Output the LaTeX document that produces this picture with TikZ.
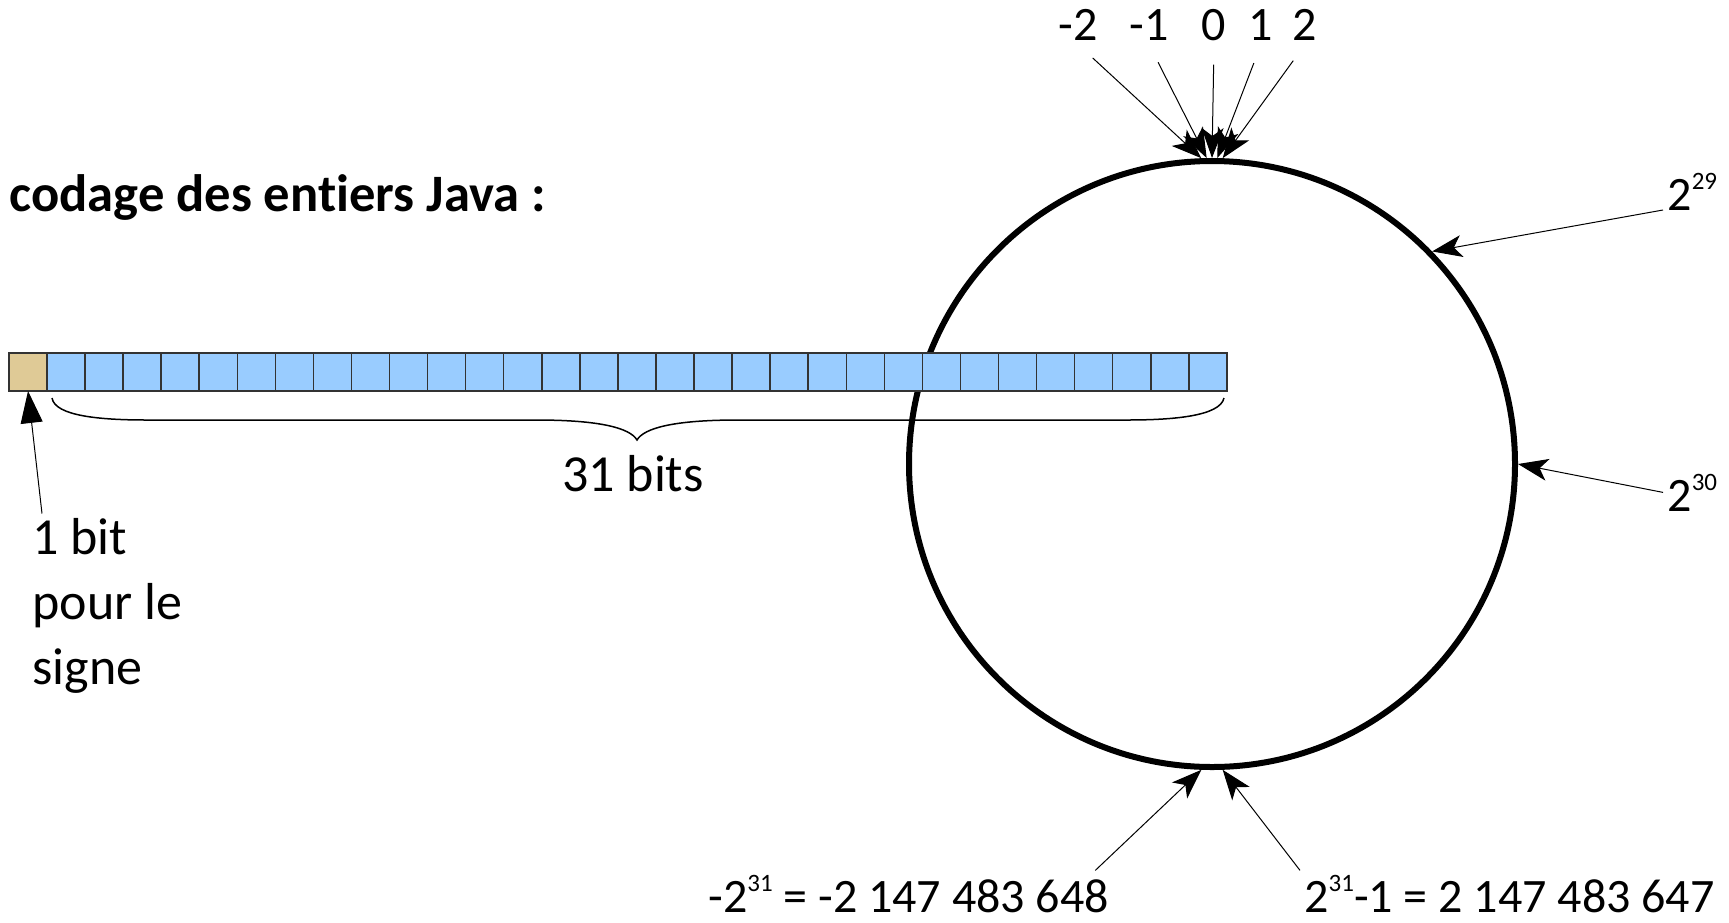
\documentclass[tikz,border=0pt]{standalone}
\usepackage{fontspec}
\setmainfont{Carlito}[Ligatures=NoCommon]
\usetikzlibrary{arrows.meta,positioning}

\definecolor{signbit}{HTML}{DFCA96}
\definecolor{valbit}{HTML}{99CCFF}
\definecolor{cellline}{HTML}{333333}

% exponent, raised and small
\newcommand{\powr}[1]{\raisebox{10.5pt}{\fontsize{12.5}{12.5}\selectfont #1}}

\begin{document}
\begin{tikzpicture}[x=0.5pt,y=-0.5pt,
    bigtxt/.style={font=\fontsize{26}{32.5}\selectfont,inner sep=2pt},
    numtxt/.style={font=\fontsize{24}{29}\selectfont,inner sep=2pt},
    cell/.style={draw=cellline,line width=0.75pt,minimum width=19.03pt,
      minimum height=19pt,inner sep=0pt,outer sep=0pt,anchor=north west},
    pin/.style={-{Stealth[length=15pt,width=11pt,inset=4pt]},line width=0.5pt},
    signpin/.style={-{Triangle[length=16pt,width=11pt]},line width=0.5pt}
  ]
  \useasboundingbox (0,0) rectangle (1729,922);

  \node[anchor=base west,inner sep=0pt,font=\fontsize{26.3}{32}\selectfont\bfseries]
    (title) at (9,211) {codage des entiers Java :};

  % the ring of values
  \node[circle,draw,line width=3pt,minimum size=303pt] (ring) at (1212,464) {};

  % the 32 bits
  \node[cell,fill=signbit] (b0) at (9,353) {};
  \foreach \i in {1,...,31}
    \node[cell,fill=valbit] (b\i) at ({47+(\i-1)*38.06},353) {};

  \draw[line width=0.75pt] (52,398) .. controls (55,416) and (100,420) .. (147,420)
    -- (536,420) .. controls (600,420) and (630,428) .. (637,440)
    .. controls (644,428) and (674,420) .. (738,420) -- (1127,420)
    .. controls (1174,420) and (1220,416) .. (1224,398);
  \node[bigtxt,anchor=base] (nbits) at (633,491) {31 bits};

  % base is the last line here
  \node[bigtxt,anchor=base west,align=left] (signlbl) at (28,684) {1 bit\\pour le\\signe};
  \draw[signpin] ([xshift=7pt]signlbl.north west) -- (b0.south);

  % labels round the ring
  \begin{scope}[every node/.style={numtxt,anchor=base}]
    \node (nm2) at (1078,40) {-2};
    \node (nm1) at (1149,40) {-1};
    \node (nz)  at (1214,40) {0};
    \node (np1) at (1261,40) {1};
    \node (np2) at (1305,40) {2};
    \node[anchor=base west] (p29) at (1663,210) {2\powr{29}};
    \node[anchor=base west] (p30) at (1663,511) {2\powr{30}};
    \node[anchor=base west] (minlbl) at (704,912) {-2\powr{31} = -2 147 483 648};
    \node[anchor=base west] (maxlbl) at (1300,912) {2\powr{31}-1 = 2 147 483 647};
  \end{scope}

  \begin{scope}[every path/.style={pin,shorten <=10pt}]
    \draw (nm2.south) -- (ring.92);
    \draw (nm1.south) -- (ring.91);
    \draw (nz.south)  -- (ring.north);
    \draw (np1.south) -- (ring.89);
    \draw (np2.south) -- (ring.88);
  \end{scope}
  \draw[pin] (p29.base west) -- (ring.44);
  \draw[pin] (p30.west) -- (ring.east);
  \draw[pin] ([xshift=-9pt]minlbl.north east) -- (ring.268);
  \draw[pin] (maxlbl.north west) -- (ring.272);

\end{tikzpicture}
\end{document}
